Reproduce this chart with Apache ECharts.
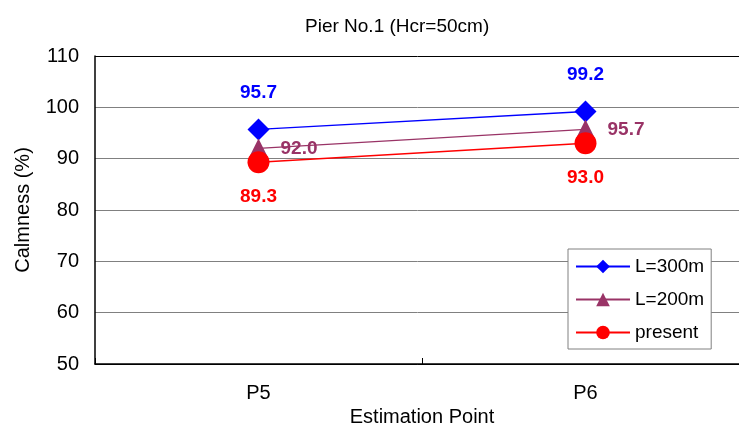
<!DOCTYPE html>
<html>
<head>
<meta charset="utf-8">
<script src="https://cdn.jsdelivr.net/npm/echarts@6/dist/echarts.min.js"></script>
<style>html,body{margin:0;padding:0;background:#fff;}#c{width:739px;height:423px;}</style>
</head>
<body>
<div id="c"></div>
<script>
var categories = ['P5', 'P6'];
var seriesNames = ['L=300m', 'L=200m', 'present'];
var L300 = [95.7, 99.2];
var L200 = [92.0, 95.7];
var present = [89.3, 93.0];
var yTicks = [50, 60, 70, 80, 90, 100, 110];

var FONT = '"Liberation Sans", Arial, sans-serif';
var chart = echarts.init(document.getElementById('c'), null, {renderer: 'canvas'});
function lbl(pos, dist, color) {
  return {show: true, position: pos, distance: dist, color: color, fontSize: 19, fontWeight: 'bold', fontFamily: FONT,
    formatter: function (p) { return p.value.toFixed(1); }};
}
chart.setOption({
  animation: false,
  backgroundColor: '#fff',
  title: {text: 'Pier No.1 (Hcr=50cm)', left: 300, top: 12,
    textStyle: {fontSize: 19, fontWeight: 'normal', color: '#000', fontFamily: FONT}},
  grid: {left: 95, top: 56, width: 654, height: 308, containLabel: false, outerBoundsMode: 'none'},
  legend: {orient: 'vertical', left: 568, top: 249, itemWidth: 54, itemHeight: 17, itemGap: 14,
    padding: [8, 7, 7, 7], backgroundColor: '#fff', borderColor: '#808080', borderWidth: 1,
    textStyle: {fontSize: 19, color: '#000', fontFamily: FONT}, data: seriesNames},
  xAxis: {type: 'category', data: categories, boundaryGap: true,
    name: 'Estimation Point', nameLocation: 'middle', nameGap: 40,
    nameTextStyle: {fontSize: 20, color: '#000', fontFamily: FONT},
    axisLine: {lineStyle: {color: '#000', width: 1.5}},
    axisTick: {show: true, inside: true, length: 6, lineStyle: {color: '#000'}},
    axisLabel: {margin: 19, fontSize: 20, color: '#000', fontFamily: FONT},
    splitLine: {show: false}},
  yAxis: {type: 'value', min: yTicks[0], max: yTicks[yTicks.length - 1], interval: 10,
    name: 'Calmness (%)', nameLocation: 'middle', nameGap: 62, nameRotate: 90,
    nameTextStyle: {fontSize: 20, color: '#000', fontFamily: FONT},
    axisLine: {show: true, lineStyle: {color: '#000', width: 1.5}},
    axisTick: {show: false},
    axisLabel: {margin: 16, fontSize: 20, color: '#000', fontFamily: FONT},
    splitLine: {show: true, lineStyle: {color: ['#000', '#808080', '#808080', '#808080', '#808080', '#808080', '#000'], width: 1}}},
  series: [
    {name: seriesNames[0], type: 'line', data: L300, symbol: 'diamond', symbolSize: 22,
      itemStyle: {color: '#0000FF'}, lineStyle: {color: '#0000FF', width: 1.4},
      label: lbl('top', 16, '#0000FF'), z: 2},
    {name: seriesNames[1], type: 'line', data: L200, symbol: 'triangle', symbolSize: 20,
      itemStyle: {color: '#993366'}, lineStyle: {color: '#993366', width: 1.4},
      label: lbl('right', 12, '#993366'), z: 3},
    {name: seriesNames[2], type: 'line', data: present, symbol: 'circle', symbolSize: 22,
      itemStyle: {color: '#FF0000'}, lineStyle: {color: '#FF0000', width: 1.4},
      label: lbl('bottom', 14, '#FF0000'), z: 4}
  ]
});
</script>
</body>
</html>
